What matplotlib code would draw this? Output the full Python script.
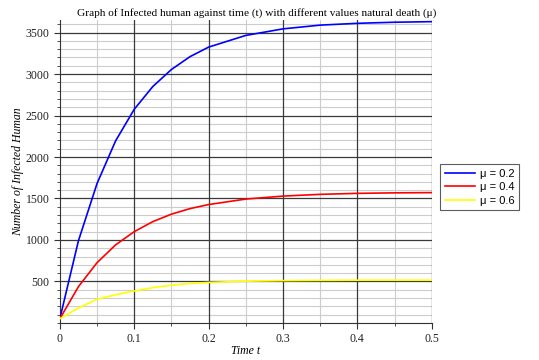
import matplotlib
matplotlib.use("Agg")
import matplotlib.pyplot as plt
from matplotlib.ticker import MultipleLocator

t = [0, 0.025, 0.05, 0.075, 0.1, 0.125, 0.15, 0.175, 0.2, 0.25, 0.3, 0.35, 0.4, 0.45, 0.5]
mu02 = [50, 990, 1680, 2195, 2575, 2850, 3055, 3210, 3325, 3466, 3545, 3590, 3612, 3625, 3632]
mu04 = [50, 437, 726, 941, 1100, 1221, 1311, 1378, 1427, 1493, 1529, 1550, 1562, 1568, 1571]
mu06 = [50, 180, 285, 340, 385, 425, 455, 475, 488, 503, 510, 513, 515, 515, 515]
labels = ["μ = 0.2", "μ = 0.4", "μ = 0.6"]
colors = ["#0000ff", "#ff0000", "#ffff00"]
xticks = [0, 0.1, 0.2, 0.3, 0.4, 0.5]
xticklabels = ["0", "0.1", "0.2", "0.3", "0.4", "0.5"]
yticks = [500, 1000, 1500, 2000, 2500, 3000, 3500]

plt.rcParams['font.family'] = ['Liberation Serif', 'DejaVu Serif']

fig = plt.figure(figsize=(5.39, 3.6), dpi=100)
ax = fig.add_axes([0.111, 0.103, 0.690, 0.841])

for y, c, l in zip([mu02, mu04, mu06], colors, labels):
    ax.plot(t, y, color=c, lw=1.2, label=l, zorder=3)

ax.set_xlim(0, 0.5)
ax.set_ylim(0, 3650)
ax.xaxis.set_minor_locator(MultipleLocator(0.05))
ax.yaxis.set_minor_locator(MultipleLocator(100))
ax.set_xticks(xticks)
ax.set_xticklabels(xticklabels)
ax.set_yticks(yticks)

# light minor grid underneath, dark major grid on top of it
ax.grid(which='minor', color='#cccccc', lw=0.8)
ax.set_axisbelow(True)
for xv in xticks[1:]:
    ax.axvline(xv, color='#3a3a3a', lw=0.9, zorder=1.5)
for yv in yticks:
    ax.axhline(yv, color='#3a3a3a', lw=0.9, zorder=1.5)

for s in ['top', 'right']:
    ax.spines[s].set_visible(False)
ax.spines['left'].set_color('#333333')
ax.spines['bottom'].set_color('#333333')
ax.tick_params(which='both', direction='out', labelsize=8.5, colors='#333333', labelcolor='#222222')
ax.tick_params(which='major', length=4)
ax.tick_params(which='minor', length=2)

ax.set_title("Graph of Infected human against time (t) with different values natural death (μ)",
             fontsize=8.1, pad=3, x=0.53)
ax.set_xlabel("Time t", fontstyle='italic', fontsize=8.5, labelpad=0)
ax.set_ylabel("Number of Infected Human", fontstyle='italic', fontsize=8.5, labelpad=1)

leg = fig.legend(loc='center left', bbox_to_anchor=(0.817, 0.48),
                 prop={'family': ['Liberation Sans', 'DejaVu Sans'], 'size': 8},
                 frameon=True, fancybox=False, edgecolor='#333333', handlelength=2.7,
                 handletextpad=0.5, borderpad=0.4, labelspacing=0.3, borderaxespad=0)
leg.get_frame().set_linewidth(0.8)

fig.savefig("out.png", dpi=100)
